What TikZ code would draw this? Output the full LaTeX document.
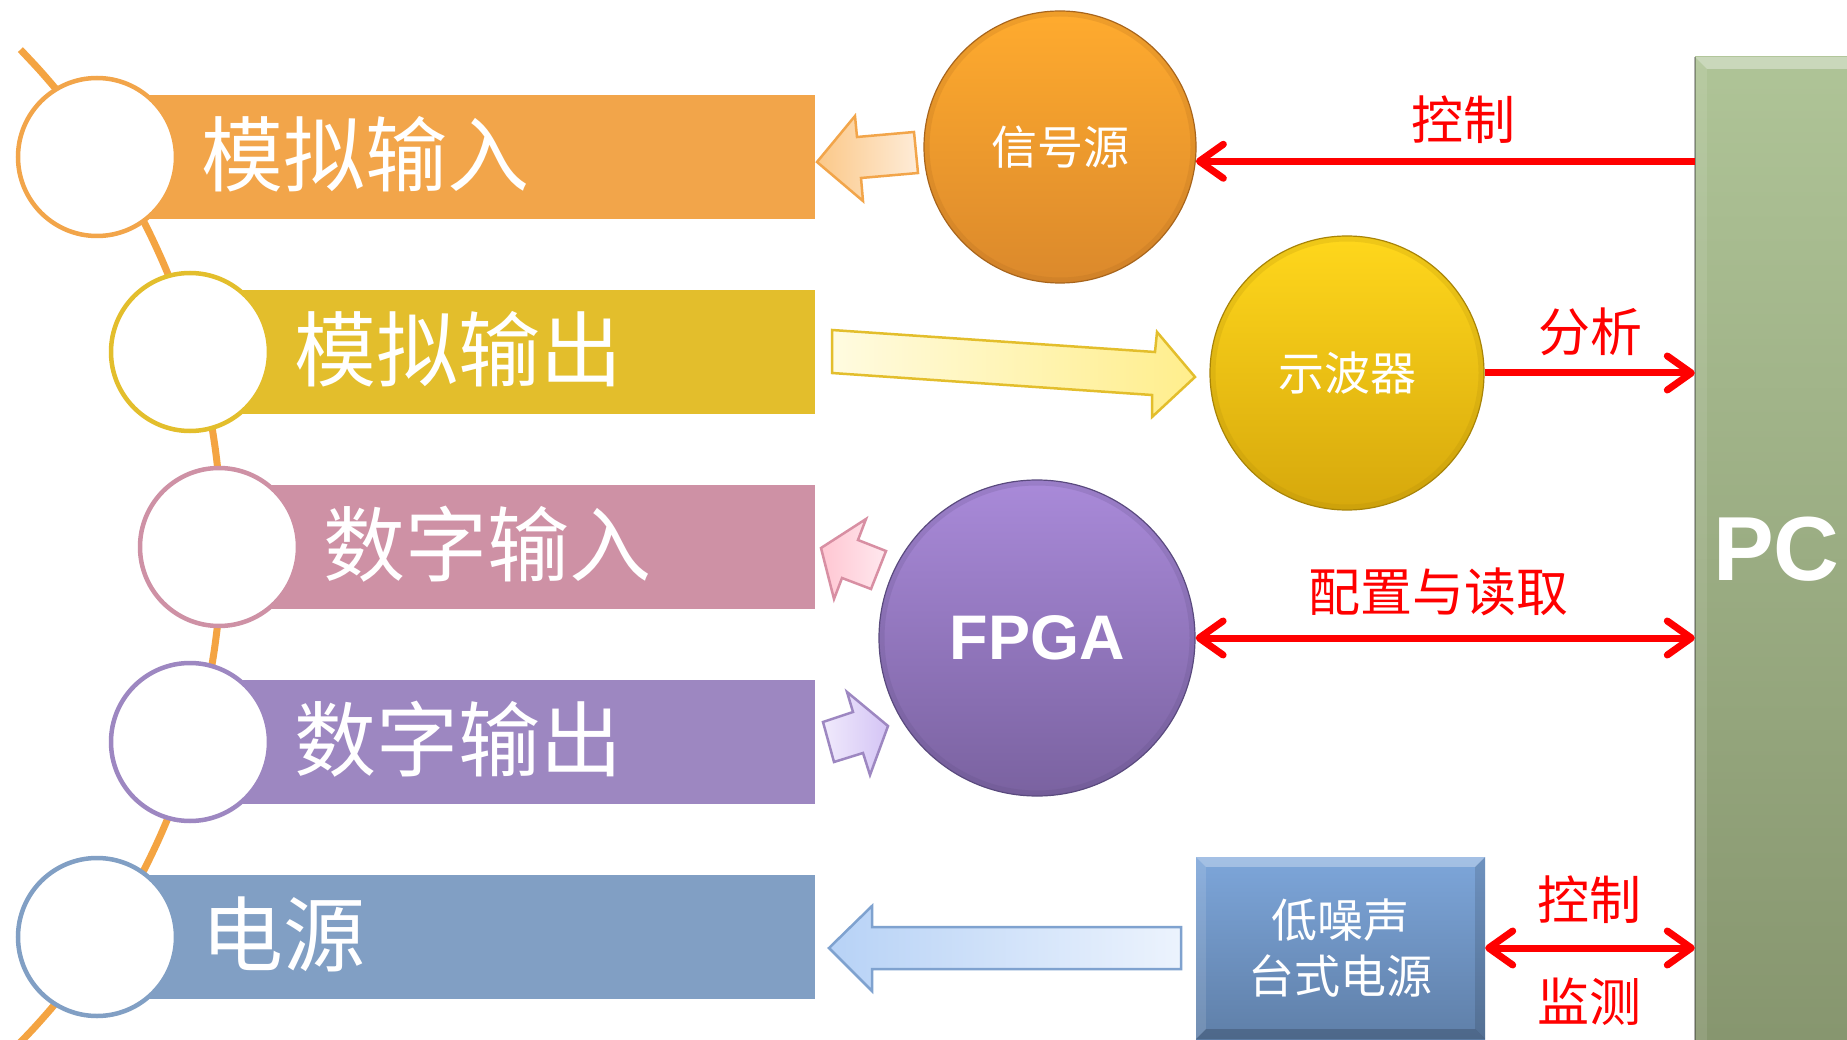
\documentclass[tikz,border=0pt]{standalone}
\usepackage{fontspec}
\setmainfont{Liberation Sans}
\newfontfamily\cjk{Noto Sans CJK SC}
\usetikzlibrary{arrows.meta,calc}
\definecolor{cOr}{HTML}{F2A54A}
\definecolor{cGo}{HTML}{E3BE2C}
\definecolor{cPk}{HTML}{CE91A5}
\definecolor{cPu}{HTML}{9D87C1}
\definecolor{cBl}{HTML}{819FC4}
\definecolor{cLine}{HTML}{F4A442}
\definecolor{sigTop}{HTML}{FFAB2E}
\definecolor{sigBot}{HTML}{DB892C}
\definecolor{sigRim}{HTML}{A8651C}
\definecolor{oscTop}{HTML}{FFD71C}
\definecolor{oscBot}{HTML}{D6A80C}
\definecolor{oscRim}{HTML}{A88408}
\definecolor{fpTop}{HTML}{A98AD9}
\definecolor{fpBot}{HTML}{7A62A0}
\definecolor{fpRim}{HTML}{5A4A7E}
\definecolor{psTop}{HTML}{7DA6DA}
\definecolor{psBot}{HTML}{5F7FA8}
\definecolor{pcTop}{HTML}{AFC497}
\definecolor{pcBot}{HTML}{86956E}
\begin{document}
\begin{tikzpicture}[x=1pt,y=-1pt,
  bar/.style={rectangle, inner sep=0, minimum height=124},
  ring/.style={circle, draw, fill=white, line width=4.5, minimum size=158, inner sep=0},
  bartext/.style={anchor=west, text=white, font=\cjk\fontsize{82}{90}\selectfont, inner sep=0},
  ball/.style={circle, inner sep=0, text=white, line width=1.2},
  balltext/.style={font=\cjk\fontsize{46}{50}\selectfont},
  redarr/.style={draw=red, line width=7, -{Straight Barb[length=24pt,width=34pt,round]}},
  redlab/.style={text=red, font=\cjk\fontsize{52}{56}\selectfont, inner sep=0},
  blockarr/.style={line width=2.5, line join=miter},
]
\useasboundingbox (0,0) rectangle (1847,1040);
\begin{scope}
\clip (0,0) rectangle (1847,1040);
\fill[white] (0,0) rectangle (1847,1040);

% timeline arc
\draw[cLine, line width=7] plot[smooth, domain=-44.2:45, samples=40] ({-490+712*cos(\x)},{546+712*sin(\x)});

% bars
\node[bar, fill=cOr, minimum width=718] (b1) at (456,157) {};
\node[bar, fill=cGo, minimum width=625] (b2) at (502.5,352) {};
\node[bar, fill=cPk, minimum width=596] (b3) at (517,547) {};
\node[bar, fill=cPu, minimum width=625] (b4) at (502.5,742) {};
\node[bar, fill=cBl, minimum width=718] (b5) at (456,937) {};

% rings
\node[ring, draw=cOr] (r1) at (97,157) {};
\node[ring, draw=cGo] (r2) at (190,352) {};
\node[ring, draw=cPk] (r3) at (219,547) {};
\node[ring, draw=cPu] (r4) at (190,742) {};
\node[ring, draw=cBl] (r5) at (97,937) {};

% bar texts
\node[bartext] (t1) at (201,154) {模拟输入};
\node[bartext] (t2) at (294,349) {模拟输出};
\node[bartext] (t3) at (323,544) {数字输入};
\node[bartext] (t4) at (294,739) {数字输出};
\node[bartext] (t5) at (201,934) {电源};

% balls
\node[ball, minimum size=272, top color=sigTop, bottom color=sigBot, draw=sigRim, balltext] (sig) at (1060,147) {信号源};
\draw[sigRim, line width=5, opacity=0.18] (sig.center) circle[radius=133];
\node[ball, minimum size=274, top color=oscTop, bottom color=oscBot, draw=oscRim, balltext] (osc) at (1347,373) {示波器};
\draw[oscRim, line width=5, opacity=0.18] (osc.center) circle[radius=134];
\node[ball, minimum size=316, top color=fpTop, bottom color=fpBot, draw=fpRim, font=\bfseries\fontsize{63}{70}\selectfont] (fpga) at (1037,638) {FPGA};
\draw[fpRim, line width=5, opacity=0.18] (fpga.center) circle[radius=155];

% power supply box
\node[rectangle, inner sep=0, minimum width=289, minimum height=182, top color=psTop, bottom color=psBot, text=white, align=center, font=\cjk\fontsize{46}{56}\selectfont] (psu) at (1340.5,948) {低噪声\\台式电源};
\fill[white, opacity=0.3] (psu.north west) -- (psu.north east) -- ($(psu.north east)+(-10,10)$) -- ($(psu.north west)+(10,10)$) -- cycle;
\fill[white, opacity=0.12] (psu.north west) -- ($(psu.north west)+(10,10)$) -- ($(psu.south west)+(10,-10)$) -- (psu.south west) -- cycle;
\fill[black, opacity=0.18] (psu.south west) -- (psu.south east) -- ($(psu.south east)+(-10,-10)$) -- ($(psu.south west)+(10,-10)$) -- cycle;
\fill[black, opacity=0.12] (psu.north east) -- ($(psu.north east)+(-10,10)$) -- ($(psu.south east)+(-10,-10)$) -- (psu.south east) -- cycle;

% PC box
\node[rectangle, inner sep=0, minimum width=205, minimum height=1003, top color=pcTop, bottom color=pcBot] (pc) at (1797.5,558.5) {};
\fill[white, opacity=0.35] (pc.north west) -- (pc.north east) -- ($(pc.north east)+(-12,12)$) -- ($(pc.north west)+(12,12)$) -- cycle;
\fill[white, opacity=0.1] (pc.north west) -- ($(pc.north west)+(12,12)$) -- ($(pc.south west)+(12,-12)$) -- (pc.south west) -- cycle;
\draw[black, opacity=0.3, line width=2] (pc.north west) -- (pc.south west);
\node[anchor=west, inner sep=0, text=white, font=\bfseries\fontsize{91}{96}\selectfont] (pclab) at (1713,549) {PC};

% red connectors
\draw[redarr] (pc.west |- sig.-6) -- (sig.-6);
\draw[redarr] (osc.east) -- (osc.east -| pc.west);
\draw[redarr, {Straight Barb[length=24pt,width=34pt,round]}-{Straight Barb[length=24pt,width=34pt,round]}] (fpga.east) -- (fpga.east -| pc.west);
\draw[redarr, {Straight Barb[length=24pt,width=34pt,round]}-{Straight Barb[length=24pt,width=34pt,round]}] (psu.east) -- (psu.east -| pc.west);

% red labels
\node[redlab] (l1) at (1463,120) {控制};
\node[redlab] (l2) at (1590,332) {分析};
\node[redlab] (l3) at (1438,592) {配置与读取};
\node[redlab] (l4) at (1589,900) {控制};
\node[redlab] (l5) at (1589,1002) {监测};

% block arrows
\draw[blockarr, draw=cOr, left color={rgb,255:red,251;green,200;blue,136}, right color={rgb,255:red,254;green,236;blue,216}]
  (817,162) -- (855,116) -- (857,137) -- (914,132) -- (918,173) -- (861,178) -- (863,201) -- cycle;
\draw[blockarr, draw=cGo, left color={rgb,255:red,255;green,251;blue,224}, right color={rgb,255:red,255;green,238;blue,140}]
  (832,330) -- (1155,352) -- (1157,332) -- (1195,377) -- (1152,417) -- (1152,395) -- (832,373) -- cycle;
\draw[blockarr, draw={rgb,255:red,216;green,143;blue,163}, left color={rgb,255:red,255;green,198;blue,210}, right color={rgb,255:red,255;green,232;blue,238}]
  (821,548) -- (866,519) -- (858,540) -- (886,551) -- (871,589) -- (842,578) -- (834,599) -- cycle;
\draw[blockarr, draw=cPu, left color={rgb,255:red,240;green,234;blue,252}, right color={rgb,255:red,212;green,196;blue,245}]
  (888,726) -- (847,692) -- (853,712) -- (823,722) -- (834,762) -- (863,753) -- (870,775) -- cycle;
\draw[blockarr, draw={rgb,255:red,127;green,162;blue,207}, left color={rgb,255:red,183;green,210;blue,246}, right color={rgb,255:red,236;green,243;blue,253}]
  (829,948) -- (872,906) -- (872,927) -- (1181,927) -- (1181,969) -- (872,969) -- (872,991) -- cycle;
\end{scope}
\end{tikzpicture}
\end{document}
